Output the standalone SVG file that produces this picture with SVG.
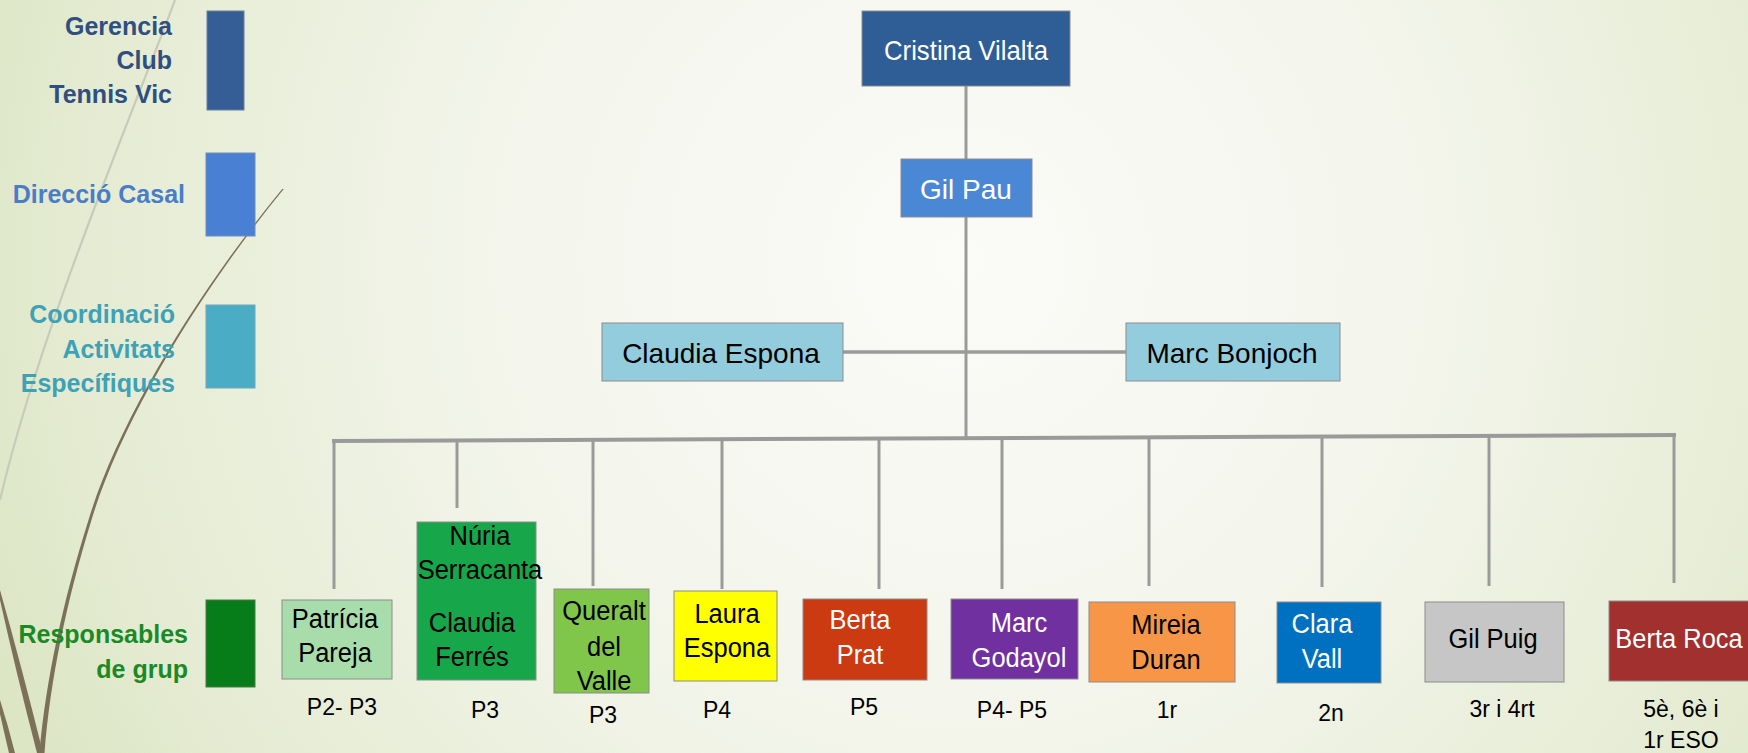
<svg xmlns="http://www.w3.org/2000/svg" width="1748" height="753" viewBox="0 0 1748 753">
<defs>
<radialGradient id="bg" gradientUnits="userSpaceOnUse" cx="960" cy="260" r="1050">
<stop offset="0" stop-color="#FBFBF8"/>
<stop offset="0.45" stop-color="#F3F5EB"/>
<stop offset="0.85" stop-color="#E4EBD1"/>
<stop offset="1" stop-color="#DCE5C4"/>
</radialGradient>
<style>
.box{stroke:#8C8C8C;stroke-width:1}
.t{font-family:"Liberation Sans",Arial,sans-serif;text-anchor:middle;fill:#000}
.w{fill:#FFFFFF}
.n26{font-size:26px}
.n28{font-size:28px}
.sub{font-family:"Liberation Sans",Arial,sans-serif;text-anchor:middle;font-size:23px;fill:#000}
.leg{font-family:"Liberation Sans",Arial,sans-serif;font-weight:bold;font-size:25px;text-anchor:end}
.con{stroke:#9A9A9A;fill:none;stroke-linecap:butt}
</style>
</defs>
<rect x="0" y="0" width="1748" height="753" fill="url(#bg)"/>

<g id="decoration">
<path d="M175,0 C130,120 40,330 0,500" fill="none" stroke="#CACABA" stroke-width="2.2"/>
<path d="M283.8,189 C201,290 121.5,420 91.5,520 C66.8,600 50.2,680 44.5,753 L39.5,753 C45.8,680 63.2,600 88.5,520 C118.5,420 199,290 282.2,189 Z" fill="#7B7159"/>
<path d="M0,590 Q22,668 43,753 L37,753 Q16,672 0,600 Z" fill="#7B7159"/>
<path d="M0,700 Q8,725 15,753 L9,753 Q4,732 0,714 Z" fill="#7B7159"/>
</g>

<g id="legend">
<g id="legend-gerencia">
<rect x="207" y="11" width="37" height="99" fill="#355E96" stroke="#6A7E9A" stroke-width="1"/>
<text class="leg" fill="#2F4F80"><tspan x="172" y="35">Gerencia</tspan><tspan x="172" y="69">Club</tspan><tspan x="172" y="103">Tennis Vic</tspan></text>
</g>
<g id="legend-direccio">
<rect x="206" y="153" width="49" height="83" fill="#4A80D4" stroke="#6C8CC0" stroke-width="1"/>
<text class="leg" fill="#4B7CC8" x="185" y="203">Direcció Casal</text>
</g>
<g id="legend-coordinacio">
<rect x="206" y="305" width="49" height="83" fill="#4BACC6" stroke="#6FA8B8" stroke-width="1"/>
<text class="leg" fill="#3EA2B6"><tspan x="175" y="323">Coordinació</tspan><tspan x="175" y="358">Activitats</tspan><tspan x="175" y="392">Específiques</tspan></text>
</g>
<g id="legend-responsables">
<rect x="206" y="600" width="49" height="87" fill="#067D18" stroke="#4A7A4A" stroke-width="1"/>
<text class="leg" fill="#1A8A26"><tspan x="188" y="643">Responsables</tspan><tspan x="188" y="678">de grup</tspan></text>
</g>
</g>

<g id="connectors">
<line class="con" x1="966" y1="86" x2="966" y2="159" stroke-width="3"/>
<line class="con" x1="966" y1="217" x2="966" y2="439" stroke-width="3"/>
<line class="con" x1="843" y1="352" x2="1126" y2="352" stroke-width="3.5"/>
<line class="con" x1="332" y1="441" x2="1676" y2="435" stroke-width="4"/>
<line class="con" x1="334" y1="441" x2="334" y2="589" stroke-width="3"/>
<line class="con" x1="457" y1="440" x2="457" y2="508" stroke-width="3"/>
<line class="con" x1="593" y1="440" x2="593" y2="586" stroke-width="3"/>
<line class="con" x1="722" y1="439" x2="722" y2="589" stroke-width="3"/>
<line class="con" x1="879" y1="439" x2="879" y2="589" stroke-width="3"/>
<line class="con" x1="1002" y1="438" x2="1002" y2="589" stroke-width="3"/>
<line class="con" x1="1149" y1="438" x2="1149" y2="586" stroke-width="3"/>
<line class="con" x1="1322" y1="437" x2="1322" y2="587" stroke-width="3"/>
<line class="con" x1="1489" y1="436" x2="1489" y2="586" stroke-width="3"/>
<line class="con" x1="1674" y1="435" x2="1674" y2="583" stroke-width="3"/>
</g>

<g id="node-cristina">
<rect class="box" x="862" y="11" width="208" height="75" fill="#2F5D95"/>
<text class="t w n28" x="966" y="60" textLength="164" lengthAdjust="spacingAndGlyphs">Cristina Vilalta</text>
</g>
<g id="node-gilpau">
<rect class="box" x="901" y="159" width="131" height="58" fill="#4A88D6"/>
<text class="t w n28" x="966" y="199">Gil Pau</text>
</g>
<g id="node-claudia-espona">
<rect class="box" x="602" y="323" width="241" height="58" fill="#93CDDD"/>
<text class="t n28" x="721" y="363">Claudia Espona</text>
</g>
<g id="node-marc-bonjoch">
<rect class="box" x="1126" y="323" width="214" height="58" fill="#93CDDD"/>
<text class="t n28" x="1232" y="363">Marc Bonjoch</text>
</g>

<g id="node-patricia">
<rect class="box" x="282" y="600" width="110" height="79" fill="#A9DCAB"/>
<text class="t n28" transform="translate(335,0) scale(0.91,1)"><tspan x="0" y="628">Patrícia</tspan><tspan x="0" y="662">Pareja</tspan></text>
<text class="sub" x="342" y="715">P2- P3</text>
</g>
<g id="node-nuria">
<rect class="box" x="417" y="522" width="119" height="158" fill="#18A64B"/>
<text class="t n28" transform="translate(480,0) scale(0.91,1)"><tspan x="0" y="545">Núria</tspan><tspan x="0" y="579">Serracanta</tspan></text>
<text class="t n28" transform="translate(472,0) scale(0.91,1)"><tspan x="0" y="632">Claudia</tspan><tspan x="0" y="666">Ferrés</tspan></text>
<text class="sub" x="485" y="718">P3</text>
</g>
<g id="node-queralt">
<rect class="box" x="554" y="589" width="95" height="104" fill="#80C64A"/>
<text class="t n28" transform="translate(604,0) scale(0.91,1)"><tspan x="0" y="620">Queralt</tspan><tspan x="0" y="656">del</tspan><tspan x="0" y="690">Valle</tspan></text>
<text class="sub" x="603" y="723">P3</text>
</g>
<g id="node-laura">
<rect class="box" x="674" y="591" width="103" height="90" fill="#FFFF00"/>
<text class="t n28" transform="translate(727,0) scale(0.91,1)"><tspan x="0" y="623">Laura</tspan><tspan x="0" y="657">Espona</tspan></text>
<text class="sub" x="717" y="718">P4</text>
</g>
<g id="node-berta-prat">
<rect class="box" x="803" y="599" width="124" height="81" fill="#CB3A10"/>
<text class="t w n28" transform="translate(860,0) scale(0.91,1)"><tspan x="0" y="629">Berta</tspan><tspan x="0" y="664">Prat</tspan></text>
<text class="sub" x="864" y="715">P5</text>
</g>
<g id="node-marc-godayol">
<rect class="box" x="951" y="599" width="127" height="80" fill="#7030A0"/>
<text class="t w n28" transform="translate(1019,0) scale(0.91,1)"><tspan x="0" y="632">Marc</tspan><tspan x="0" y="667">Godayol</tspan></text>
<text class="sub" x="1012" y="718">P4- P5</text>
</g>
<g id="node-mireia">
<rect class="box" x="1089" y="602" width="146" height="80" fill="#F79646"/>
<text class="t n28" transform="translate(1166,0) scale(0.91,1)"><tspan x="0" y="634">Mireia</tspan><tspan x="0" y="669">Duran</tspan></text>
<text class="sub" x="1167" y="718">1r</text>
</g>
<g id="node-clara">
<rect class="box" x="1277" y="602" width="104" height="81" fill="#0070C0"/>
<text class="t w n28" transform="translate(1322,0) scale(0.91,1)"><tspan x="0" y="633">Clara</tspan><tspan x="0" y="668">Vall</tspan></text>
<text class="sub" x="1331" y="721">2n</text>
</g>
<g id="node-gil-puig">
<rect class="box" x="1425" y="602" width="139" height="80" fill="#C6C6C6"/>
<text class="t n28" transform="translate(1493,0) scale(0.91,1)" x="0" y="648">Gil Puig</text>
<text class="sub" x="1502" y="717">3r i 4rt</text>
</g>
<g id="node-berta-roca">
<rect class="box" x="1609" y="601" width="145" height="80" fill="#A1302E"/>
<text class="t w n28" transform="translate(1679,0) scale(0.91,1)" x="0" y="648">Berta Roca</text>
<text class="sub"><tspan x="1681" y="717">5è, 6è i</tspan><tspan x="1681" y="748">1r ESO</tspan></text>
</g>
</svg>
